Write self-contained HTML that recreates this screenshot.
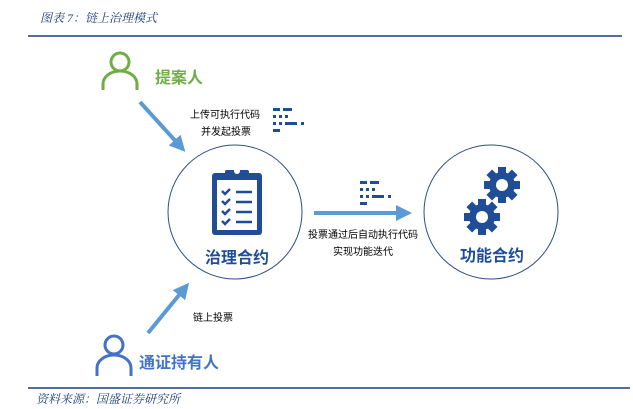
<!DOCTYPE html>
<html><head><meta charset="utf-8"><style>
body{margin:0;width:633px;height:409px;background:#fff;overflow:hidden;font-family:"Liberation Sans","Noto Sans CJK SC",sans-serif;}
.t{position:absolute;white-space:nowrap;}
</style></head><body>
<div class="t" style="left:40px;top:9px;font-size:12px;color:#1f3f7a;font-style:italic;font-family:'Liberation Serif','Noto Serif CJK SC',serif;">图表 7：链上治理模式</div>
<div class="t" style="left:36px;top:390px;font-size:12px;color:#1f3f7a;font-style:italic;font-family:'Liberation Serif','Noto Serif CJK SC',serif;">资料来源：国盛证券研究所</div>
<svg width="633" height="409" style="position:absolute;left:0;top:0">
<defs>
<marker id="a" markerWidth="4" markerHeight="4" refX="2" refY="2" orient="auto"><path d="M0,0L4,2L0,4z" fill="#5b9bd5"/></marker>
<g id="code" fill="#1f4e96">
<rect x="0" y="0" width="7" height="3"/><rect x="10" y="0" width="9" height="3"/>
<rect x="0" y="7" width="3" height="3"/><rect x="6" y="7" width="3" height="3"/><rect x="12" y="7" width="3" height="3"/>
<rect x="0" y="14" width="3" height="3"/><rect x="6" y="14" width="3" height="3"/><rect x="12" y="14" width="12" height="3"/><rect x="28" y="14" width="3" height="3"/>
<rect x="0" y="21" width="7" height="3"/>
</g>
<g id="gear"><circle r="13" fill="#1f4e96"/>
<g fill="#1f4e96"><rect x="-4" y="-18" width="8" height="36"/><rect x="-4" y="-18" width="8" height="36" transform="rotate(45)"/><rect x="-4" y="-18" width="8" height="36" transform="rotate(90)"/><rect x="-4" y="-18" width="8" height="36" transform="rotate(135)"/></g>
<circle r="6" fill="#fff"/></g>
</defs>
<line x1="28" y1="36" x2="622" y2="36" stroke="#1f3f7a" stroke-width="1.5"/>
<line x1="28" y1="388" x2="630" y2="388" stroke="#1f3f7a" stroke-width="1.5"/>
<!-- green person -->
<circle cx="120" cy="62" r="9" fill="none" stroke="#70ad47" stroke-width="3"/>
<path d="M103,90 V84 A17,13 0 0 1 137,84 V90" fill="none" stroke="#70ad47" stroke-width="3"/>
<!-- blue person -->
<circle cx="114" cy="345" r="9" fill="none" stroke="#4472c4" stroke-width="3"/>
<path d="M97,376 V368 A17,13 0 0 1 131,368 V376" fill="none" stroke="#4472c4" stroke-width="3"/>
<!-- arrows -->
<line x1="140" y1="102" x2="180" y2="146" stroke="#5b9bd5" stroke-width="4" marker-end="url(#a)"/>
<line x1="148" y1="333" x2="184" y2="289" stroke="#5b9bd5" stroke-width="4" marker-end="url(#a)"/>
<line x1="314" y1="213" x2="404" y2="213" stroke="#5b9bd5" stroke-width="4" marker-end="url(#a)"/>
<!-- circles -->
<circle cx="235" cy="212" r="67" fill="none" stroke="#2f4f8a" stroke-width="1"/>
<circle cx="491" cy="212" r="67" fill="none" stroke="#2f4f8a" stroke-width="1"/>
<use href="#code" x="273" y="108"/>
<use href="#code" x="360" y="181"/>
<!-- clipboard -->
<rect x="212" y="173" width="50" height="62" rx="3" fill="#1f4e96"/>
<rect x="217" y="180" width="40" height="50" fill="#fff"/>
<rect x="225" y="170" width="24" height="10" rx="2" fill="#1f4e96"/>
<circle cx="237" cy="171" r="3" fill="#fff"/>
<g stroke="#1f4e96" stroke-width="2.5" fill="none">
<path d="M222,191l3,3l5,-5M222,201l3,3l5,-5M222,211l3,3l5,-5M222,221l3,3l5,-5"/>
<path d="M236,192h16M236,202h16M236,212h16M236,222h16"/>
</g>
<use href="#gear" x="502" y="185"/>
<use href="#gear" x="482" y="217"/>
</svg>
<div class="t" style="left:155px;top:64px;font-size:16px;font-weight:bold;color:#70ad47;">提案人</div>
<div class="t" style="left:190px;top:106px;font-size:10px;color:#000;">上传可执行代码</div>
<div class="t" style="left:201px;top:123px;font-size:10px;color:#000;">并发起投票</div>
<div class="t" style="left:205px;top:244px;font-size:16px;font-weight:bold;color:#1f4e96;">治理合约</div>
<div class="t" style="left:460px;top:242px;font-size:16px;font-weight:bold;color:#1f4e96;">功能合约</div>
<div class="t" style="left:308px;top:226px;font-size:10px;color:#000;">投票通过后自动执行代码</div>
<div class="t" style="left:333px;top:243px;font-size:10px;color:#000;">实现功能迭代</div>
<div class="t" style="left:193px;top:309px;font-size:10px;color:#000;">链上投票</div>
<div class="t" style="left:139px;top:349px;font-size:16px;font-weight:bold;color:#4472c4;">通证持有人</div>
</body></html>
